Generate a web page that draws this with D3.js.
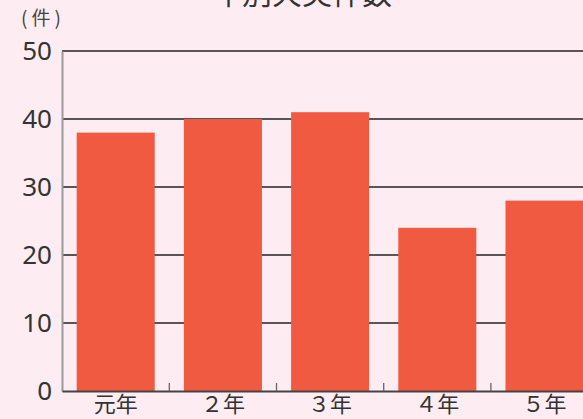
<!DOCTYPE html>
<html>
<head>
<meta charset="utf-8">
<script src="https://cdn.jsdelivr.net/npm/d3@7"></script>
<style>
  html, body { margin: 0; padding: 0; background: #fdedf2; }
  svg { display: block; font-family: "Noto Sans CJK JP", "Noto Sans", sans-serif; }
</style>
</head>
<body>
<div id="chart"></div>
<script>
// chart data
const YEARS = ["元年", "２年", "３年", "４年", "５年"];
const FIRE_COUNTS = [38, 40, 41, 24, 28];
const Y_TICKS = [0, 10, 20, 30, 40, 50];
const TITLE = "年別火災件数";
const UNIT = "(件)";

const WIDTH = 583;
const HEIGHT = 419;
const BAR_COLOR = "#f05a40";
const TEXT_COLOR = "#333";

const svg = d3.select("#chart")
  .append("svg")
  .attr("width", WIDTH)
  .attr("height", HEIGHT);

const axisLeftX = 62;
const step = 107.2;
const padInner = 0.272;
const padOuter = 0.137;

const xScale = d3.scaleBand()
  .domain(YEARS)
  .range([axisLeftX, axisLeftX + step * (YEARS.length - padInner + 2 * padOuter)])
  .paddingInner(padInner)
  .paddingOuter(padOuter);

const yScale = d3.scaleLinear()
  .domain([0, 50])
  .range([391, 51]);

// title, mostly cut off at the top (as in the original)
svg.append("text")
  .attr("x", 302)
  .attr("y", 4)
  .attr("text-anchor", "middle")
  .attr("font-size", 30)
  .attr("fill", TEXT_COLOR)
  .text(TITLE);

// unit label
svg.append("text")
  .attr("x", 21)
  .attr("y", 25)
  .attr("font-size", 19)
  .attr("letter-spacing", 4)
  .attr("fill", "#444")
  .text(UNIT);

// gridlines
svg.append("g")
  .selectAll("line")
  .data(Y_TICKS.filter(d => d > 0))
  .join("line")
  .attr("x1", axisLeftX)
  .attr("x2", WIDTH)
  .attr("y1", d => yScale(d))
  .attr("y2", d => yScale(d))
  .attr("stroke", "#222")
  .attr("stroke-width", 1.3);

// bars
svg.append("g")
  .selectAll("rect")
  .data(FIRE_COUNTS)
  .join("rect")
  .attr("x", (d, i) => xScale(YEARS[i]))
  .attr("width", xScale.bandwidth())
  .attr("y", d => yScale(d))
  .attr("height", d => yScale(0) - yScale(d))
  .attr("fill", BAR_COLOR);

// y axis
const yAxis = svg.append("g")
  .attr("transform", `translate(${axisLeftX},0)`)
  .call(d3.axisLeft(yScale).tickValues(Y_TICKS).tickSize(0).tickPadding(10));
yAxis.select(".domain").attr("stroke", "#999").attr("stroke-width", 2);
yAxis.selectAll("text")
  .attr("font-size", 26)
  .attr("fill", TEXT_COLOR)
  .attr("font-family", "'Noto Sans', sans-serif");

// x axis
const xAxis = svg.append("g")
  .attr("transform", `translate(0,${yScale(0)})`)
  .call(d3.axisBottom(xScale).tickSize(0).tickPadding(5));
xAxis.select(".domain").attr("stroke", "#444").attr("stroke-width", 2);
xAxis.selectAll("text")
  .attr("font-size", 22)
  .attr("fill", TEXT_COLOR)
  .attr("font-family", "'Noto Sans CJK JP', sans-serif");

// separator ticks between the bars
const gap = (xScale.step() - xScale.bandwidth()) / 2;
svg.append("g")
  .selectAll("line")
  .data(YEARS.slice(1))
  .join("line")
  .attr("x1", d => xScale(d) - gap)
  .attr("x2", d => xScale(d) - gap)
  .attr("y1", yScale(0))
  .attr("y2", yScale(0) - 8)
  .attr("stroke", "#666")
  .attr("stroke-width", 1.3);
</script>
</body>
</html>
